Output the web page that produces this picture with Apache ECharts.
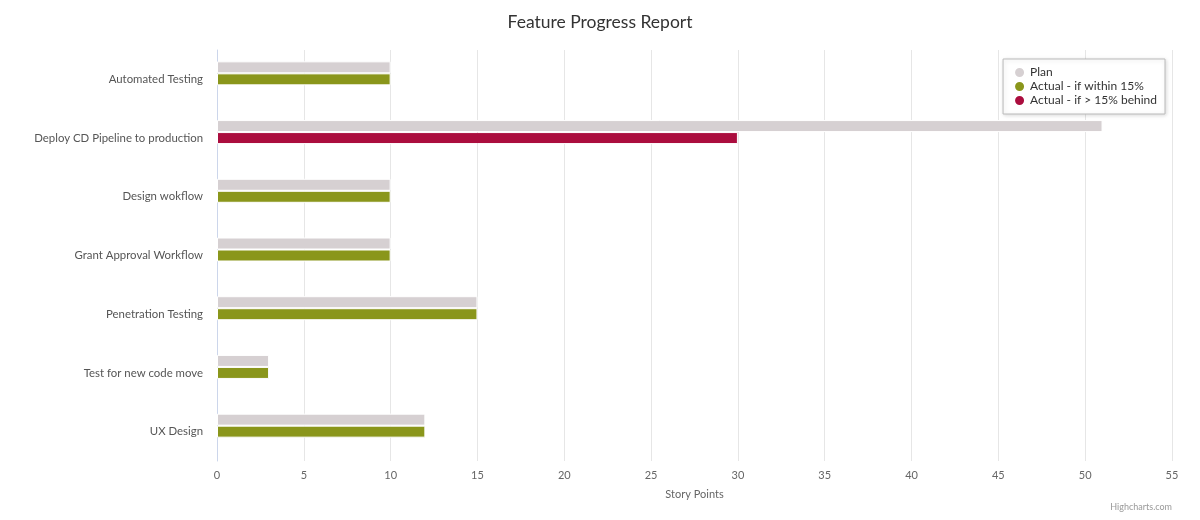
<!DOCTYPE html>
<html>
<head>
<meta charset="utf-8">
<script src="https://cdn.jsdelivr.net/npm/echarts@6/dist/echarts.min.js"></script>
<style>
  html, body { margin: 0; padding: 0; background: #fff; }
  #chart { width: 1200px; height: 520px; }
</style>
</head>
<body>
<div id="chart"></div>
<script>
// categories (top to bottom)
const features = [
    'Automated Testing',
    'Deploy CD Pipeline to production',
    'Design wokflow',
    'Grant Approval Workflow',
    'Penetration Testing',
    'Test for new code move',
    'UX Design'
];
// story points
const plan = [10, 51, 10, 10, 15, 3, 12];
const actual = [10, 30, 10, 10, 15, 3, 12];

const PLAN_COLOR = '#d6d0d2';
const OK_COLOR = '#8a961b';
const BEHIND_COLOR = '#ab0d3e';

// actual bars turn red when more than 15% behind plan
const actualData = actual.map((v, i) => ({
    value: v,
    itemStyle: { color: v < plan[i] * 0.85 ? BEHIND_COLOR : OK_COLOR }
}));

const chart = echarts.init(document.getElementById('chart'));
const font = 'Lato, "Open Sans", sans-serif';

chart.setOption({
    animation: false,
    textStyle: { fontFamily: font },
    title: {
        text: 'Feature Progress Report',
        left: 'center',
        top: 8,
        textStyle: { fontFamily: font, fontSize: 17.5, fontWeight: 'normal', color: '#333' }
    },
    legend: {
        orient: 'vertical',
        right: 35,
        top: 59,
        padding: [7, 8, 7, 10],
        itemGap: 1,
        itemWidth: 11,
        itemHeight: 11,
        icon: 'circle',
        backgroundColor: '#fff',
        borderColor: '#bbb',
        borderWidth: 1,
        shadowColor: 'rgba(0,0,0,0.15)',
        shadowBlur: 4,
        shadowOffsetX: 1,
        shadowOffsetY: 1,
        textStyle: { fontFamily: font, fontSize: 12, color: '#333' },
        data: ['Plan', 'Actual - if within 15%', 'Actual - if > 15% behind']
    },
    grid: { left: 217, right: 28, top: 50, bottom: 59, containLabel: false },
    xAxis: {
        type: 'value',
        min: 0,
        max: 55,
        interval: 5,
        name: 'Story Points',
        nameLocation: 'middle',
        nameGap: 28,
        nameTextStyle: { fontFamily: font, fontSize: 11, color: '#666' },
        axisLine: { show: false },
        axisTick: { show: false },
        axisLabel: { fontFamily: font, fontSize: 11, color: '#666', margin: 9 },
        splitLine: { lineStyle: { color: '#e6e6e6' } }
    },
    yAxis: {
        type: 'category',
        inverse: true,
        data: features,
        axisLine: { lineStyle: { color: '#ccd6eb' } },
        axisTick: { length: 9, lineStyle: { color: '#ccd6eb' } },
        axisLabel: { fontFamily: font, fontSize: 11.4, color: '#555', margin: 14, padding: [6, 0, 0, 0] },
        splitLine: { show: false }
    },
    series: [
        {
            name: 'Plan',
            type: 'bar',
            barWidth: 12,
            barGap: '0%',
            color: PLAN_COLOR,
            itemStyle: { borderColor: '#fff', borderWidth: 1 },
            data: plan
        },
        {
            name: 'Actual - if within 15%',
            type: 'bar',
            barWidth: 12,
            barGap: '0%',
            color: OK_COLOR,
            itemStyle: { borderColor: '#fff', borderWidth: 1 },
            data: actualData
        },
        {
            name: 'Actual - if > 15% behind',
            type: 'bar',
            barWidth: 12,
            barGap: '0%',
            color: BEHIND_COLOR,
            itemStyle: { borderColor: '#fff', borderWidth: 1 },
            data: features.map(() => null)
        }
    ],
    graphic: [{
        type: 'text',
        right: 28,
        bottom: 8,
        style: { text: 'Highcharts.com', fontFamily: font, fontSize: 9, fill: '#999' }
    }]
});
</script>
</body>
</html>
